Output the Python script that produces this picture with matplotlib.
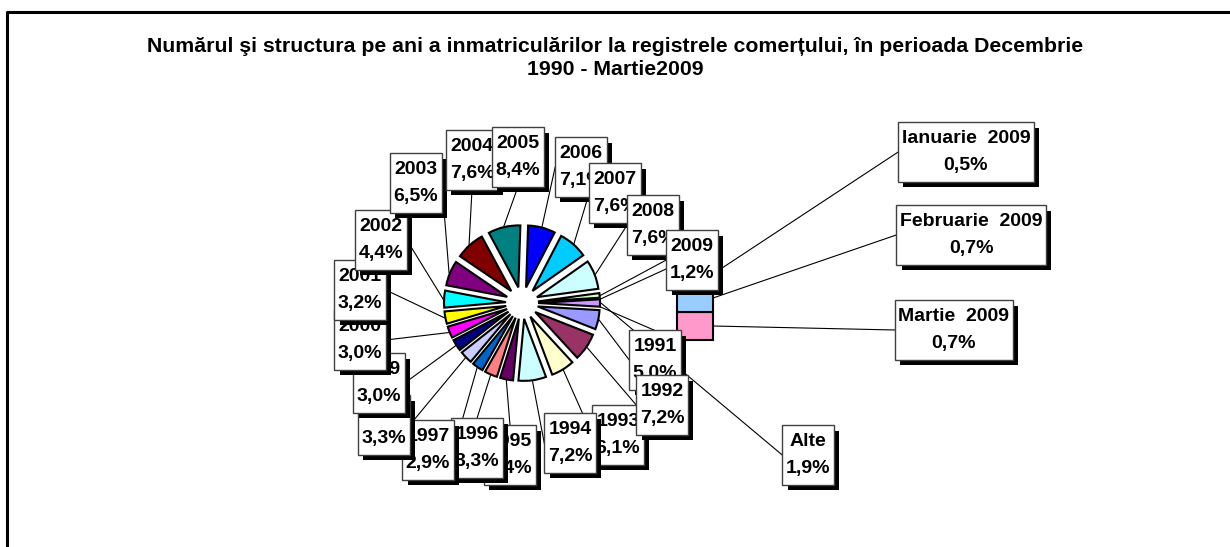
#!/usr/bin/env python3
# Bar-of-pie: inmatriculari la registrele comertului, Dec 1990 - Mar 2009
import math
import matplotlib
matplotlib.use("Agg")
import matplotlib.pyplot as plt
from matplotlib import patheffects as pe
from matplotlib.path import Path

plt.rcParams["font.family"] = ["Liberation Sans", "DejaVu Sans"]

# --- data ---
years = ["1991", "1992", "1993", "1994", "1995", "1996", "1997", "1998", "1999",
         "2000", "2001", "2002", "2003", "2004", "2005", "2006", "2007", "2008", "2009"]
year_share = [5.0, 7.2, 6.1, 7.2, 3.4, 3.3, 2.9, 3.3, 3.0,
              3.0, 3.2, 4.4, 6.5, 7.6, 8.4, 7.1, 7.6, 7.6, 1.2]
other_name = "Alte"
other_share = 1.9
months = ["Ianuarie  2009", "Februarie  2009", "Martie  2009"]
month_share = [0.5, 0.7, 0.7]

title = ("Numărul şi structura pe ani a inmatriculărilor la registrele comerțului, "
         "în perioada Decembrie\n1990 - Martie2009")

# Excel 2003 chart palette, point order
pie_colors = ["#9999FF", "#993366", "#FFFFCC", "#CCFFFF", "#660066", "#FF8080",
              "#0066CC", "#CCCCFF", "#000080", "#FF00FF", "#FFFF00", "#00FFFF",
              "#800080", "#800000", "#008080", "#0000FF", "#00CCFF", "#CCFFFF",
              "#CCFFCC", "#CC99FF"]
month_colors = ["#FFFF99", "#99CCFF", "#FF99CC"]

# --- layout (pixel positions, y measured from the top) ---
W, H = 1230, 547
def px(x, y):
    return (x, H - y)

PIE_CENTER = (522, 303)
PIE_R = 62
PIE_EXPLODE = 16
BAR_X, BAR_W, BAR_BOTTOM, BAR_SCALE = 695, 36, 340, 40.0   # 40 px per percent

year_label_pos = [(655, 360), (662, 405), (618, 435), (570, 443), (510, 455),
                  (477, 448), (428, 450), (384, 425), (379, 383), (360, 340),
                  (360, 290), (381, 240), (416, 183), (472, 160), (518, 157),
                  (581, 167), (615, 193), (653, 225), (692, 260)]
# stacking of overlapping labels (1993 sits under its neighbours)
year_label_z = [10, 12, 9, 13, 14, 15, 16, 17, 18, 19, 20, 21, 22, 23, 24, 25, 26, 27, 28]
other_label_pos = (808, 455)
month_label_pos = [(966, 152), (971, 235), (954, 330)]

def pct(v):
    return f"{v:.1f}".replace(".", ",") + "%"

# Excel-like label box: narrow side padding, taller top/bottom padding
def excel_box(x0, y0, width, height, mutation_size):
    padx, pady = 0.18 * mutation_size, 0.38 * mutation_size
    x0, y0 = x0 - padx, y0 - pady
    x1, y1 = x0 + width + 2 * padx, y0 + height + 2 * pady
    return Path([(x0, y0), (x1, y0), (x1, y1), (x0, y1), (x0, y0)], closed=True)

fig = plt.figure(figsize=(W / 100, H / 100), dpi=100)
ax = fig.add_axes([0, 0, 1, 1])

pie_vals = year_share + [other_share]
start = -other_share / sum(pie_vals) * 360 / 2
wedges, _ = ax.pie(pie_vals, colors=pie_colors, startangle=start, counterclock=False,
                   radius=PIE_R, center=px(*PIE_CENTER),
                   explode=[PIE_EXPLODE] * len(pie_vals), frame=True,
                   wedgeprops=dict(edgecolor="black", linewidth=1.5))

# stacked bar of the "Alte" slice (bottom segment drawn first)
bar_bottom = H - BAR_BOTTOM
bar_segs = []
for name, v, c in reversed(list(zip(months, month_share, month_colors))):
    b = ax.bar(BAR_X, v * BAR_SCALE, width=BAR_W, bottom=bar_bottom, color=c,
               edgecolor="black", linewidth=1.5, zorder=1)
    bar_segs.insert(0, b[0])
    bar_bottom += v * BAR_SCALE

ax.set_xlim(0, W)
ax.set_ylim(0, H)
ax.set_aspect("equal")
ax.set_axis_off()

# frame
ax.plot([7, 7, W + 5], [-5, H - 12, H - 12], color="black", lw=2.2, solid_capstyle="projecting")

ax.text(615, H - 58, title, ha="center", va="center", fontsize=15.3, fontweight="bold",
        linespacing=1.25)

shadow = [pe.SimplePatchShadow(offset=(3.8, -3.8), shadow_rgbFace="black", alpha=1.0),
          pe.Normal()]

def label(xy, s, z):
    t = ax.text(*px(*xy), s, ha="center", va="center", fontsize=14, fontweight="bold",
                linespacing=1.8, multialignment="center", zorder=z,
                bbox=dict(boxstyle=excel_box, fc="white", ec="#404040", lw=1))
    t.get_bbox_patch().set_path_effects(shadow)
    return t

texts = []
for yr, v, pos, z in zip(years, year_share, year_label_pos, year_label_z):
    texts.append(label(pos, f"{yr}\n{pct(v)}", z))
texts.append(label(other_label_pos, f"{other_name}\n{pct(other_share)}", 40))
month_texts = [label(pos, f"{m}\n{pct(v)}", 50 + i)
               for i, (m, v, pos) in enumerate(zip(months, month_share, month_label_pos))]

fig.canvas.draw()
inv = ax.transData.inverted()

def box_of(t):
    bb = t.get_bbox_patch().get_window_extent()
    (x0, y0), (x1, y1) = inv.transform([(bb.x0, bb.y0), (bb.x1, bb.y1)])
    return x0, y0, x1, y1

def attach(src, t):
    x0, y0, x1, y1 = box_of(t)
    sx, sy = src
    if sx < x0:
        return x0, (y0 + y1) / 2
    if sx > x1:
        return x1, (y0 + y1) / 2
    if sy > y1:
        return (x0 + x1) / 2, y1
    return (x0 + x1) / 2, y0

def leader(a, b):
    ax.plot([a[0], b[0]], [a[1], b[1]], color="black", lw=0.8, zorder=5)

# pie leader lines
for w, t in zip(wedges, texts):
    th = math.radians((w.theta1 + w.theta2) / 2)
    src = (w.center[0] + (w.r + 1) * math.cos(th), w.center[1] + (w.r + 1) * math.sin(th))
    leader(src, attach(src, t))

# bar leader lines
for seg, t in zip(bar_segs, month_texts):
    src = (seg.get_x() + seg.get_width(), seg.get_y() + seg.get_height() / 2)
    leader(src, attach(src, t))

# series lines from "Alte" slice to the bar
aw = wedges[-1]
top_seg, bot_seg = bar_segs[0], bar_segs[-1]
for ang, corner in [(max(aw.theta1, aw.theta2), (top_seg.get_x(), top_seg.get_y() + top_seg.get_height())),
                    (min(aw.theta1, aw.theta2), (bot_seg.get_x(), bot_seg.get_y()))]:
    th = math.radians(ang)
    p = (aw.center[0] + aw.r * math.cos(th), aw.center[1] + aw.r * math.sin(th))
    leader(p, corner)

fig.savefig("out.png", dpi=100)
